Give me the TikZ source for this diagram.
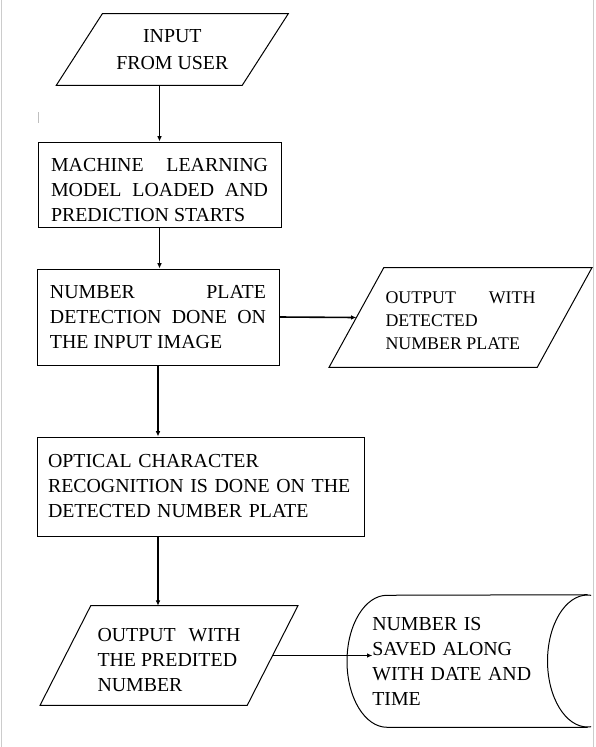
\documentclass[tikz,border=0pt]{standalone}
\usepackage{fontspec}
\setmainfont{Liberation Serif}
\usetikzlibrary{arrows.meta}
\tolerance=10000

\begin{document}
\begin{tikzpicture}[x=0.75pt,y=-0.75pt,
  every node/.style={font=\fontsize{14.9}{18.75}\selectfont,inner sep=0pt},
  procbox/.style={draw,line width=0.75pt,rectangle,align=justify},
  iobox/.style={rectangle,align=justify},
  shapeline/.style={line width=0.75pt},
  flow/.style={line width=1.2pt,-{Latex[length=4pt,width=3.5pt]}}]
\useasboundingbox (0,0) rectangle (596,747);
\draw[gray!40] (1.5,0) -- (1.5,747);
\draw[gray!40] (593.5,0) -- (593.5,747);
\draw[gray!50] (38,112) -- (38,123);
% input / output parallelograms are drawn round their text nodes
\node[iobox,align=center,minimum width=104.55pt,minimum height=53.25pt,font=\fontsize{14.9}{20}\selectfont] (input) at (172.3,49.5) {INPUT\\FROM USER};
\draw[shapeline] ([xshift=-34.5pt]input.south west) -- (input.south east) -- ([xshift=34.5pt]input.north east) -- (input.north west) -- cycle;
\node[procbox,minimum width=182.25pt,minimum height=63.75pt,text width=162.75pt] (model) at (159.5,184.5) {\rule{0pt}{17.6pt}MACHINE LEARNING\linebreak MODEL LOADED AND\linebreak PREDICTION STARTS};
\node[procbox,minimum width=181.5pt,minimum height=72pt,text width=162pt] (detect) at (158,317) {NUMBER PLATE\linebreak DETECTION DONE ON\linebreak THE INPUT IMAGE};
\node[iobox,minimum width=114.75pt,minimum height=74.25pt,text width=112.5pt,font=\fontsize{13.4}{17.25}\selectfont] (plateout) at (460.5,317.5) {\rule{0pt}{13.6pt}OUTPUT WITH\linebreak DETECTED\\NUMBER PLATE};
\draw[shapeline] ([xshift=-41pt]plateout.south west) -- (plateout.south east) -- ([xshift=41pt]plateout.north east) -- (plateout.north west) -- cycle;
\node[procbox,align=left,minimum width=245.25pt,minimum height=74.25pt,text width=228.75pt] (ocr) at (200.5,486.5) {OPTICAL CHARACTER\\RECOGNITION IS DONE ON THE\\DETECTED NUMBER PLATE};
\node[iobox,minimum width=117pt,minimum height=74.25pt,text width=107.25pt] (numout) at (169,655.5) {\rule{0pt}{16.1pt}OUTPUT WITH\linebreak THE PREDITED\\NUMBER};
\draw[shapeline] ([xshift=-38pt]numout.south west) -- (numout.south east) -- ([xshift=38pt]numout.north east) -- (numout.north west) -- cycle;
\begin{scope}
\clip (0,0) rectangle (591,747);
\node[minimum width=210pt,minimum height=99pt,text width=172.5pt,align=left,anchor=west] (saved) at (347,661) {NUMBER IS\\SAVED ALONG\\WITH DATE AND\\TIME};
\draw[shapeline] ([xshift=-30pt]saved.south east) -- ([xshift=30pt]saved.south west) arc[start angle=90,end angle=270,x radius=40,y radius=66] -- ([xshift=-30pt]saved.north east);
\draw[shapeline] ([xshift=-30pt]saved.east) ellipse [x radius=40,y radius=66];
\end{scope}
% connectors
\draw[flow] (model.north |- input.south) -- (model.north);
\draw[flow] (model.south) -- (model.south |- detect.north);
\draw[flow] (detect.east) -- ([xshift=-20.5pt]plateout.west);
\draw[flow] (detect.south) -- (detect.south |- ocr.north);
\draw[flow] (detect.south |- ocr.south) -- (detect.south |- numout.north);
\draw[flow] ([xshift=19pt]numout.east) -- ([xshift=19pt]numout.east -| saved.west);
\end{tikzpicture}
\end{document}
